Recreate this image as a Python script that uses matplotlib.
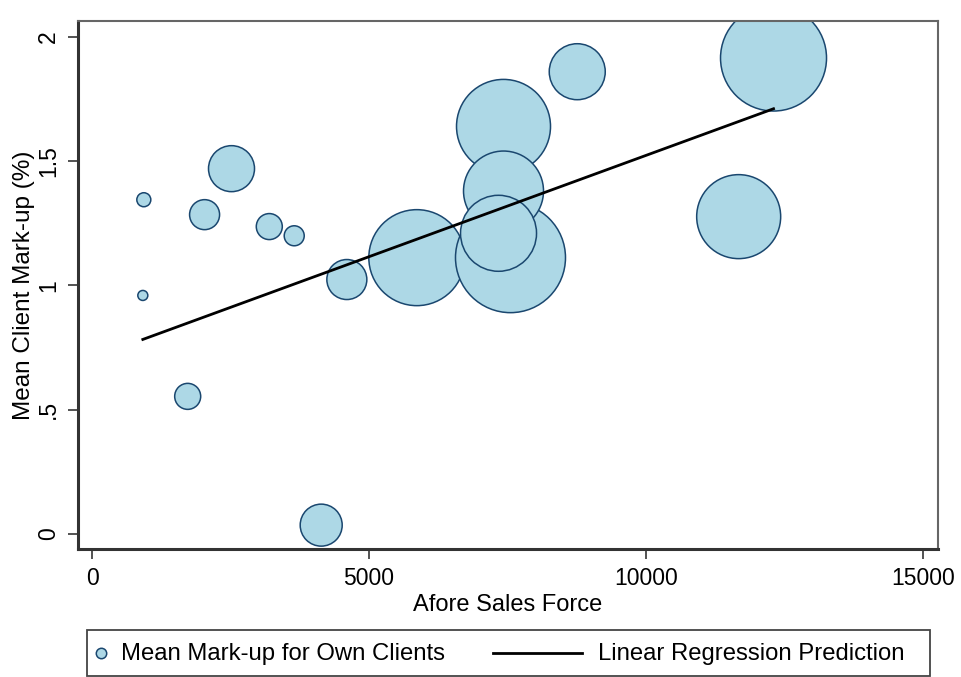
import matplotlib.pyplot as plt
from matplotlib.patches import Rectangle
from matplotlib.lines import Line2D

plt.rcParams['font.family'] = ['Liberation Sans', 'DejaVu Sans']

# sales force and mean mark-up per afore
sales_force = [935, 917, 1727, 2032, 2518, 3200, 3650, 4137, 4600,
               5863, 7554, 7428, 7428, 7338, 8759, 11673, 12302]
markup = [1.345, 0.96, 0.554, 1.285, 1.47, 1.237, 1.20, 0.036, 1.024,
          1.112, 1.112, 1.64, 1.38, 1.21, 1.86, 1.277, 1.915]
# bubble weights (relative size)
weight = [7, 5, 13, 15, 23, 13, 10, 21, 20,
          48, 55, 47, 40, 38, 28, 42, 53]

# fitted line end points
fit_x = [917, 12302]
fit_y = [0.783, 1.711]

W, H = 962, 677
fig = plt.figure(figsize=(W / 100, H / 100), dpi=100)
ax = fig.add_axes([78/W, 1 - 549/H, 860/W, 528/H])

# radius in px -> marker area in pt^2
sizes = [(2 * w * 0.72) ** 2 for w in weight]
ax.scatter(sales_force, markup, s=sizes, facecolor='#add8e6',
           edgecolor='#1a476f', linewidth=1.1, zorder=2)
ax.plot(fit_x, fit_y, color='black', linewidth=2, zorder=3)

ax.set_xlim(-253, 15271)
ax.set_ylim(-0.06, 2.064)
ax.set_xticks([0, 5000, 10000, 15000])
ax.set_xticklabels(['0', '5000', '10000', '15000'])
ax.set_yticks([0, 0.5, 1, 1.5, 2])
ax.set_yticklabels(['0', '.5', '1', '1.5', '2'], rotation=90, va='center')
ax.tick_params(length=7, width=1.3, labelsize=16.5, color='#444444', pad=6)

for s in ax.spines.values():
    s.set_color('#666666')
    s.set_linewidth(1.5)
for side in ['left', 'bottom']:
    ax.spines[side].set_color('#333333')
    ax.spines[side].set_linewidth(2.2)

ax.set_xlabel('Afore Sales Force', fontsize=17, labelpad=3)
ax.set_ylabel('Mean Client Mark-up (%)', fontsize=17.5, labelpad=1.5)

# legend box under the plot
def fx(px):
    return px / W

def fy(py):
    return 1 - py / H

fig.patches.append(Rectangle((fx(87), fy(676)), fx(930) - fx(87), fy(630) - fy(676),
                             transform=fig.transFigure, fill=False,
                             edgecolor='#444444', linewidth=1.3))
fig.lines.append(Line2D([fx(101)], [fy(653)], transform=fig.transFigure,
                        marker='o', markersize=7.5, markerfacecolor='#add8e6',
                        markeredgecolor='#1a476f', markeredgewidth=1.1))
fig.text(fx(121), fy(654), 'Mean Mark-up for Own Clients', fontsize=17.2,
         va='center', ha='left')
fig.lines.append(Line2D([fx(493), fx(582)], [fy(653), fy(653)],
                        transform=fig.transFigure, color='black', linewidth=2))
fig.text(fx(598), fy(654), 'Linear Regression Prediction', fontsize=17.2,
         va='center', ha='left')

fig.savefig('out.png', dpi=100, facecolor='white')
